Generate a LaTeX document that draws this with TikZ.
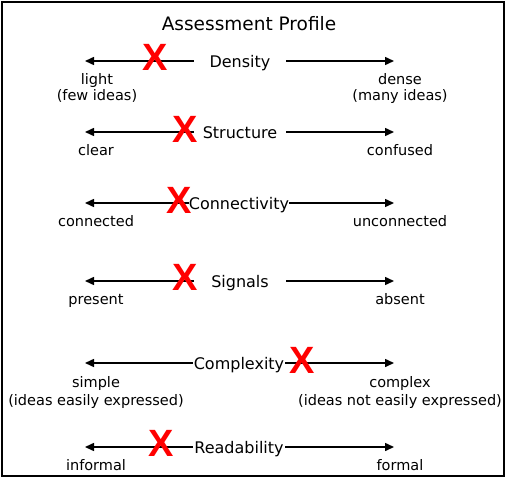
\documentclass[tikz,border=0pt]{standalone}
\usepackage{fontspec}
\setmainfont{DejaVu Sans}
\newfontfamily\xfont{Liberation Sans}
\usetikzlibrary{arrows.meta}
\begin{document}
\begin{tikzpicture}[x=1pt,y=-1pt,
  axisname/.style={inner sep=0pt, minimum width=92pt, text height=12pt, text depth=0pt, font=\fontsize{16}{18}\selectfont},
  endlabel/.style={anchor=base, inner sep=0pt, font=\fontsize{14.5}{16}\selectfont},
  axisarrow/.style={line width=1.5pt, -{Triangle[length=9pt,width=8pt]}},
  xmark/.style={inner sep=0pt, text=red, text height=27.2pt, text depth=0pt, font=\xfont\bfseries\fontsize{38}{40}\selectfont}
]
\useasboundingbox (0,0) rectangle (507,491);
\draw[line width=2pt] (2,2) rectangle (504,476);
\node[anchor=base, inner sep=0pt, font=\fontsize{18.5}{20}\selectfont] (title) at (249,30) {Assessment Profile};

% Density
\node[axisname] (den) at (240,61) {Density};
\coordinate (denL) at (85,61); \coordinate (denR) at (394,61);
\draw[axisarrow] (den.west) -- (denL);
\draw[axisarrow] (den.east) -- (denR);
\node[endlabel] (denl1) at (97,84) {light};
\node[endlabel] (denl2) at (97,100) {(few ideas)};
\node[endlabel] (denr1) at (400,84) {dense};
\node[endlabel] (denr2) at (400,100) {(many ideas)};
\node[xmark] (denx) at (155,57) {X};

% Structure
\node[axisname] (str) at (240,132) {Structure};
\coordinate (strL) at (85,132); \coordinate (strR) at (394,132);
\draw[axisarrow] (str.west) -- (strL);
\draw[axisarrow] (str.east) -- (strR);
\node[endlabel] (strl1) at (96,155) {clear};
\node[endlabel] (strr1) at (400,155) {confused};
\node[xmark] (strx) at (185,128.5) {X};

% Connectivity
\node[axisname] (con) at (239,203) {Connectivity};
\coordinate (conL) at (85,203); \coordinate (conR) at (394,203);
\draw[axisarrow] (con.west) -- (conL);
\draw[axisarrow] (con.east) -- (conR);
\node[endlabel] (conl1) at (96,226) {connected};
\node[endlabel] (conr1) at (400,226) {unconnected};
\node[xmark] (conx) at (179.5,199.7) {X};

% Signals
\node[axisname] (sig) at (240,281) {Signals};
\coordinate (sigL) at (85,281); \coordinate (sigR) at (394,281);
\draw[axisarrow] (sig.west) -- (sigL);
\draw[axisarrow] (sig.east) -- (sigR);
\node[endlabel] (sigl1) at (96,304) {present};
\node[endlabel] (sigr1) at (400,304) {absent};
\node[xmark] (sigx) at (185,276.7) {X};

% Complexity
\node[axisname] (cpx) at (239,363) {Complexity};
\coordinate (cpxL) at (85,363); \coordinate (cpxR) at (394,363);
\draw[axisarrow] (cpx.west) -- (cpxL);
\draw[axisarrow] (cpx.east) -- (cpxR);
\node[endlabel] (cpxl1) at (96,387) {simple};
\node[endlabel] (cpxl2) at (96,405) {(ideas easily expressed)};
\node[endlabel] (cpxr1) at (400,387) {complex};
\node[endlabel] (cpxr2) at (400,405) {(ideas not easily expressed)};
\node[xmark] (cpxx) at (302,359.5) {X};

% Readability
\node[axisname] (rea) at (239,447) {Readability};
\coordinate (reaL) at (85,447); \coordinate (reaR) at (394,447);
\draw[axisarrow] (rea.west) -- (reaL);
\draw[axisarrow] (rea.east) -- (reaR);
\node[endlabel] (real1) at (96,470) {informal};
\node[endlabel] (rear1) at (400,470) {formal};
\node[xmark] (reax) at (161,443) {X};
\end{tikzpicture}
\end{document}
